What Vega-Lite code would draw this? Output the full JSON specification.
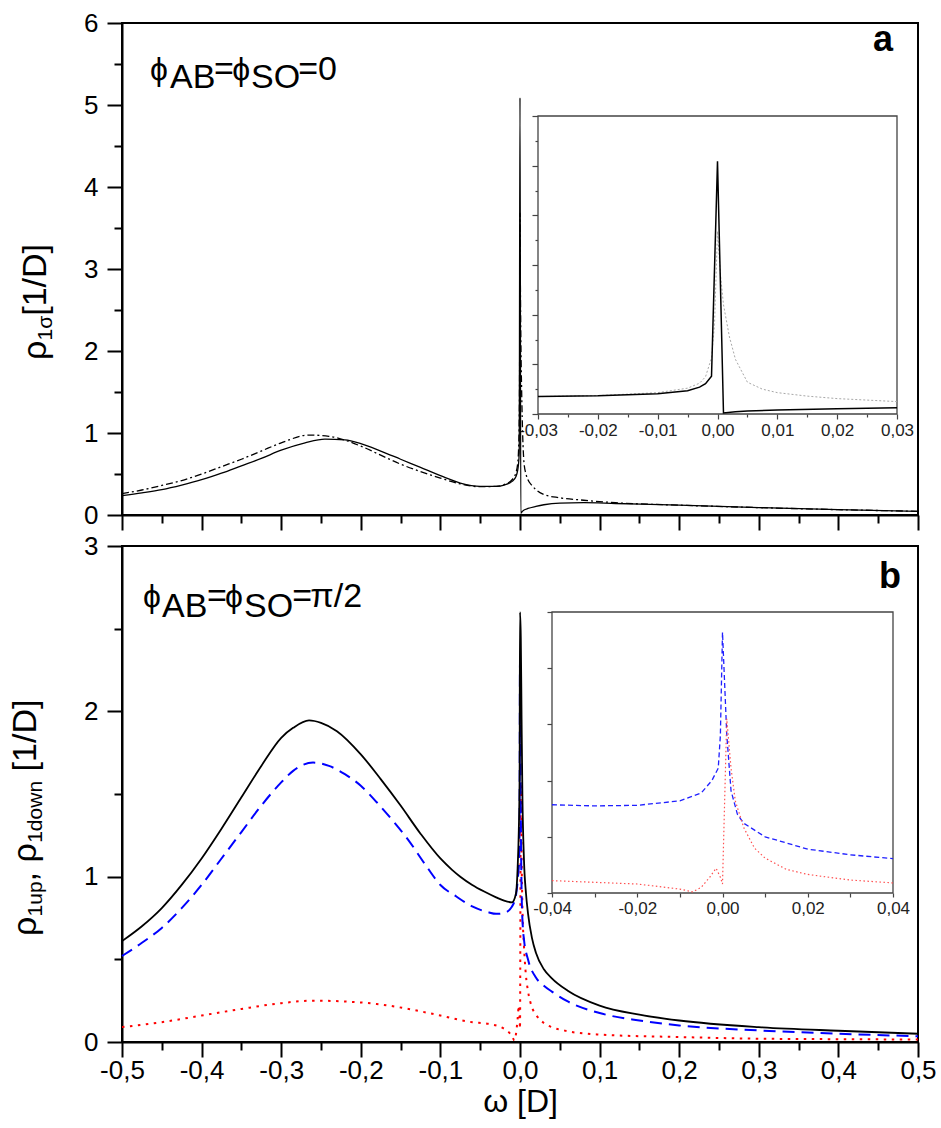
{
"$schema": "https://vega.github.io/schema/vega-lite/v6.json",
"background": "white",
"padding": {"left": 7, "top": 9, "right": 2, "bottom": 2},
"bounds": "flush",
"spacing": 31,
"config": {
  "view": {"stroke": "black", "strokeWidth": 2},
  "axis": {"grid": false, "domainColor": "black", "domainWidth": 2, "tickColor": "black", "tickWidth": 2, "labelColor": "black", "labelFont": "Liberation Sans", "titleFont": "Liberation Sans", "titleColor": "black", "titleFontWeight": "normal", "labelFlush": false, "labelOverlap": false},
  "line": {"interpolate": "monotone"},
  "text": {"font": "Liberation Sans", "color": "black"}
},
"datasets": {
  "a": [
    {"x": -0.5, "y": 0.235, "s": "solid"}, {"x": -0.475, "y": 0.27, "s": "solid"}, {"x": -0.45, "y": 0.31, "s": "solid"}, {"x": -0.425, "y": 0.365, "s": "solid"}, {"x": -0.4, "y": 0.43, "s": "solid"}, {"x": -0.375, "y": 0.51, "s": "solid"}, {"x": -0.35, "y": 0.6, "s": "solid"}, {"x": -0.325, "y": 0.69, "s": "solid"}, {"x": -0.3, "y": 0.79, "s": "solid"}, {"x": -0.27, "y": 0.88, "s": "solid"}, {"x": -0.245, "y": 0.925, "s": "solid"}, {"x": -0.22, "y": 0.915, "s": "solid"}, {"x": -0.2, "y": 0.87, "s": "solid"}, {"x": -0.175, "y": 0.78, "s": "solid"}, {"x": -0.15, "y": 0.68, "s": "solid"}, {"x": -0.125, "y": 0.58, "s": "solid"}, {"x": -0.1, "y": 0.48, "s": "solid"}, {"x": -0.075, "y": 0.39, "s": "solid"}, {"x": -0.05, "y": 0.35, "s": "solid"}, {"x": -0.03, "y": 0.35, "s": "solid"}, {"x": -0.02, "y": 0.365, "s": "solid"}, {"x": -0.01, "y": 0.41, "s": "solid"}, {"x": -0.005, "y": 0.47, "s": "solid"}, {"x": -0.003, "y": 0.54, "s": "solid"}, {"x": -0.002, "y": 0.61, "s": "solid"}, {"x": -0.001, "y": 0.76, "s": "solid"}, {"x": 0, "y": 5.09, "s": "solid"}, {"x": 0.001, "y": 0.02, "s": "solid"}, {"x": 0.003, "y": 0.045, "s": "solid"}, {"x": 0.005, "y": 0.06, "s": "solid"}, {"x": 0.01, "y": 0.08, "s": "solid"}, {"x": 0.02, "y": 0.105, "s": "solid"}, {"x": 0.03, "y": 0.125, "s": "solid"}, {"x": 0.05, "y": 0.145, "s": "solid"}, {"x": 0.08, "y": 0.15, "s": "solid"}, {"x": 0.12, "y": 0.14, "s": "solid"}, {"x": 0.2, "y": 0.12, "s": "solid"}, {"x": 0.3, "y": 0.09, "s": "solid"}, {"x": 0.4, "y": 0.065, "s": "solid"}, {"x": 0.5, "y": 0.045, "s": "solid"},
    {"x": -0.5, "y": 0.26, "s": "dashdot"}, {"x": -0.475, "y": 0.305, "s": "dashdot"}, {"x": -0.45, "y": 0.36, "s": "dashdot"}, {"x": -0.425, "y": 0.42, "s": "dashdot"}, {"x": -0.4, "y": 0.5, "s": "dashdot"}, {"x": -0.375, "y": 0.59, "s": "dashdot"}, {"x": -0.35, "y": 0.68, "s": "dashdot"}, {"x": -0.325, "y": 0.78, "s": "dashdot"}, {"x": -0.3, "y": 0.88, "s": "dashdot"}, {"x": -0.265, "y": 0.975, "s": "dashdot"}, {"x": -0.24, "y": 0.96, "s": "dashdot"}, {"x": -0.2, "y": 0.84, "s": "dashdot"}, {"x": -0.175, "y": 0.73, "s": "dashdot"}, {"x": -0.15, "y": 0.62, "s": "dashdot"}, {"x": -0.125, "y": 0.53, "s": "dashdot"}, {"x": -0.1, "y": 0.45, "s": "dashdot"}, {"x": -0.075, "y": 0.38, "s": "dashdot"}, {"x": -0.05, "y": 0.345, "s": "dashdot"}, {"x": -0.03, "y": 0.35, "s": "dashdot"}, {"x": -0.02, "y": 0.37, "s": "dashdot"}, {"x": -0.01, "y": 0.43, "s": "dashdot"}, {"x": -0.005, "y": 0.52, "s": "dashdot"}, {"x": -0.003, "y": 0.62, "s": "dashdot"}, {"x": -0.002, "y": 0.75, "s": "dashdot"}, {"x": -0.001, "y": 1.13, "s": "dashdot"}, {"x": -0.0005, "y": 1.8, "s": "dashdot"}, {"x": 0, "y": 3.68, "s": "dashdot"}, {"x": 0.0005, "y": 2.8, "s": "dashdot"}, {"x": 0.001, "y": 2.2, "s": "dashdot"}, {"x": 0.002, "y": 1.55, "s": "dashdot"}, {"x": 0.003, "y": 1.1, "s": "dashdot"}, {"x": 0.005, "y": 0.64, "s": "dashdot"}, {"x": 0.0075, "y": 0.5, "s": "dashdot"}, {"x": 0.01, "y": 0.43, "s": "dashdot"}, {"x": 0.015, "y": 0.36, "s": "dashdot"}, {"x": 0.02, "y": 0.31, "s": "dashdot"}, {"x": 0.03, "y": 0.25, "s": "dashdot"}, {"x": 0.05, "y": 0.21, "s": "dashdot"}, {"x": 0.08, "y": 0.18, "s": "dashdot"}, {"x": 0.12, "y": 0.15, "s": "dashdot"}, {"x": 0.2, "y": 0.12, "s": "dashdot"}, {"x": 0.3, "y": 0.09, "s": "dashdot"}, {"x": 0.4, "y": 0.065, "s": "dashdot"}, {"x": 0.5, "y": 0.045, "s": "dashdot"}
  ],
  "b": [
    {"x": -0.5, "y": 0.61, "s": "total"}, {"x": -0.475, "y": 0.7, "s": "total"}, {"x": -0.45, "y": 0.81, "s": "total"}, {"x": -0.425, "y": 0.95, "s": "total"}, {"x": -0.4, "y": 1.11, "s": "total"}, {"x": -0.375, "y": 1.29, "s": "total"}, {"x": -0.35, "y": 1.48, "s": "total"}, {"x": -0.325, "y": 1.67, "s": "total"}, {"x": -0.3, "y": 1.84, "s": "total"}, {"x": -0.285, "y": 1.9, "s": "total"}, {"x": -0.265, "y": 1.945, "s": "total"}, {"x": -0.25, "y": 1.93, "s": "total"}, {"x": -0.23, "y": 1.88, "s": "total"}, {"x": -0.2, "y": 1.74, "s": "total"}, {"x": -0.175, "y": 1.59, "s": "total"}, {"x": -0.15, "y": 1.43, "s": "total"}, {"x": -0.125, "y": 1.26, "s": "total"}, {"x": -0.1, "y": 1.11, "s": "total"}, {"x": -0.085, "y": 1.04, "s": "total"}, {"x": -0.075, "y": 1.0, "s": "total"}, {"x": -0.06, "y": 0.95, "s": "total"}, {"x": -0.045, "y": 0.91, "s": "total"}, {"x": -0.03, "y": 0.875, "s": "total"}, {"x": -0.02, "y": 0.855, "s": "total"}, {"x": -0.01, "y": 0.845, "s": "total"}, {"x": -0.005, "y": 0.9, "s": "total"}, {"x": -0.003, "y": 1.05, "s": "total"}, {"x": -0.0015, "y": 1.28, "s": "total"}, {"x": -0.0005, "y": 1.6, "s": "total"}, {"x": 0, "y": 2.6, "s": "total"}, {"x": 0.001, "y": 2.45, "s": "total"}, {"x": 0.002, "y": 1.95, "s": "total"}, {"x": 0.003, "y": 1.5, "s": "total"}, {"x": 0.005, "y": 1.1, "s": "total"}, {"x": 0.0075, "y": 0.9, "s": "total"}, {"x": 0.01, "y": 0.78, "s": "total"}, {"x": 0.015, "y": 0.63, "s": "total"}, {"x": 0.02, "y": 0.54, "s": "total"}, {"x": 0.03, "y": 0.44, "s": "total"}, {"x": 0.04, "y": 0.385, "s": "total"}, {"x": 0.06, "y": 0.31, "s": "total"}, {"x": 0.1, "y": 0.22, "s": "total"}, {"x": 0.15, "y": 0.165, "s": "total"}, {"x": 0.2, "y": 0.13, "s": "total"}, {"x": 0.3, "y": 0.09, "s": "total"}, {"x": 0.4, "y": 0.068, "s": "total"}, {"x": 0.5, "y": 0.05, "s": "total"},
    {"x": -0.5, "y": 0.52, "s": "up"}, {"x": -0.475, "y": 0.6, "s": "up"}, {"x": -0.45, "y": 0.69, "s": "up"}, {"x": -0.425, "y": 0.81, "s": "up"}, {"x": -0.4, "y": 0.95, "s": "up"}, {"x": -0.375, "y": 1.11, "s": "up"}, {"x": -0.35, "y": 1.27, "s": "up"}, {"x": -0.325, "y": 1.43, "s": "up"}, {"x": -0.3, "y": 1.57, "s": "up"}, {"x": -0.285, "y": 1.64, "s": "up"}, {"x": -0.26, "y": 1.69, "s": "up"}, {"x": -0.24, "y": 1.67, "s": "up"}, {"x": -0.22, "y": 1.62, "s": "up"}, {"x": -0.2, "y": 1.55, "s": "up"}, {"x": -0.18, "y": 1.45, "s": "up"}, {"x": -0.16, "y": 1.34, "s": "up"}, {"x": -0.14, "y": 1.22, "s": "up"}, {"x": -0.12, "y": 1.08, "s": "up"}, {"x": -0.1, "y": 0.95, "s": "up"}, {"x": -0.08, "y": 0.88, "s": "up"}, {"x": -0.06, "y": 0.82, "s": "up"}, {"x": -0.04, "y": 0.785, "s": "up"}, {"x": -0.03, "y": 0.775, "s": "up"}, {"x": -0.02, "y": 0.78, "s": "up"}, {"x": -0.01, "y": 0.82, "s": "up"}, {"x": -0.005, "y": 0.89, "s": "up"}, {"x": -0.0025, "y": 1.0, "s": "up"}, {"x": -0.001, "y": 1.11, "s": "up"}, {"x": -0.0005, "y": 1.4, "s": "up"}, {"x": 0, "y": 2.32, "s": "up"}, {"x": 0.001, "y": 1.41, "s": "up"}, {"x": 0.002, "y": 0.91, "s": "up"}, {"x": 0.0035, "y": 0.7, "s": "up"}, {"x": 0.005, "y": 0.62, "s": "up"}, {"x": 0.01, "y": 0.5, "s": "up"}, {"x": 0.02, "y": 0.39, "s": "up"}, {"x": 0.03, "y": 0.34, "s": "up"}, {"x": 0.04, "y": 0.305, "s": "up"}, {"x": 0.06, "y": 0.245, "s": "up"}, {"x": 0.1, "y": 0.175, "s": "up"}, {"x": 0.15, "y": 0.13, "s": "up"}, {"x": 0.2, "y": 0.1, "s": "up"}, {"x": 0.3, "y": 0.07, "s": "up"}, {"x": 0.4, "y": 0.05, "s": "up"}, {"x": 0.5, "y": 0.035, "s": "up"},
    {"x": -0.5, "y": 0.09, "s": "down"}, {"x": -0.45, "y": 0.12, "s": "down"}, {"x": -0.4, "y": 0.16, "s": "down"}, {"x": -0.35, "y": 0.2, "s": "down"}, {"x": -0.3, "y": 0.235, "s": "down"}, {"x": -0.26, "y": 0.25, "s": "down"}, {"x": -0.22, "y": 0.245, "s": "down"}, {"x": -0.18, "y": 0.23, "s": "down"}, {"x": -0.14, "y": 0.2, "s": "down"}, {"x": -0.1, "y": 0.16, "s": "down"}, {"x": -0.06, "y": 0.12, "s": "down"}, {"x": -0.04, "y": 0.11, "s": "down"}, {"x": -0.02, "y": 0.08, "s": "down"}, {"x": -0.01, "y": 0.035, "s": "down"}, {"x": -0.007, "y": 0.01, "s": "down"}, {"x": -0.005, "y": 0.05, "s": "down"}, {"x": -0.003, "y": 0.14, "s": "down"}, {"x": -0.0015, "y": 0.22, "s": "down"}, {"x": -0.0005, "y": 0.14, "s": "down"}, {"x": 0, "y": 0.08, "s": "down"}, {"x": 0.001, "y": 1.55, "s": "down"}, {"x": 0.002, "y": 1.11, "s": "down"}, {"x": 0.003, "y": 0.82, "s": "down"}, {"x": 0.005, "y": 0.58, "s": "down"}, {"x": 0.0075, "y": 0.4, "s": "down"}, {"x": 0.01, "y": 0.31, "s": "down"}, {"x": 0.015, "y": 0.21, "s": "down"}, {"x": 0.02, "y": 0.165, "s": "down"}, {"x": 0.03, "y": 0.115, "s": "down"}, {"x": 0.04, "y": 0.09, "s": "down"}, {"x": 0.06, "y": 0.065, "s": "down"}, {"x": 0.1, "y": 0.045, "s": "down"}, {"x": 0.2, "y": 0.03, "s": "down"}, {"x": 0.3, "y": 0.02, "s": "down"}, {"x": 0.4, "y": 0.017, "s": "down"}, {"x": 0.5, "y": 0.015, "s": "down"}
  ]
},
"vconcat": [
{
  "width": 796, "height": 492,
  "layer": [
    {"data": {"name": "a"}, "transform": [{"filter": "datum.s === 'solid'"}],
     "mark": {"type": "line", "color": "black", "strokeWidth": 1.3},
     "encoding": {
       "x": {"field": "x", "type": "quantitative", "scale": {"domain": [-0.5, 0.5], "nice": false, "zero": false},
             "axis": {"orient": "bottom", "title": null, "labels": false, "values": [-0.5,-0.4,-0.3,-0.2,-0.1,0,0.1,0.2,0.3,0.4,0.5], "tickSize": 15}},
       "y": {"field": "y", "type": "quantitative", "scale": {"domain": [0, 6], "nice": false, "zero": false},
             "axis": {"orient": "left", "title": null, "values": [0,1,2,3,4,5,6], "labelFontSize": 26, "labelPadding": 9, "tickSize": 15, "labelExpr": "format(datum.value, 'd')"}}
     }},
    {"data": {"name": "a"}, "transform": [{"filter": "datum.s === 'dashdot'"}],
     "mark": {"type": "line", "color": "black", "strokeWidth": 1.3, "strokeDash": [7, 3, 2, 3]},
     "encoding": {
       "x": {"field": "x", "type": "quantitative", "scale": {"domain": [-0.5, 0.5], "nice": false, "zero": false},
             "axis": {"orient": "bottom", "title": null, "labels": false, "domain": false, "values": [-0.45,-0.35,-0.25,-0.15,-0.05,0.05,0.15,0.25,0.35,0.45], "tickSize": 8}},
       "y": {"field": "y", "type": "quantitative", "scale": {"domain": [0, 6], "nice": false, "zero": false},
             "axis": {"orient": "left", "title": null, "labels": false, "domain": false, "values": [0.5,1.5,2.5,3.5,4.5,5.5], "tickSize": 8}}
     }},
    {"data": {"values": [{}]}, "mark": {"type": "text", "text": "ϕ", "fontSize": 32, "align": "left", "baseline": "alphabetic"},
     "encoding": {"x": {"datum": -0.4648, "type": "quantitative", "scale": {"domain": [-0.5, 0.5], "nice": false, "zero": false}, "axis": null}, "y": {"datum": 5.305, "type": "quantitative", "scale": {"domain": [0, 6], "nice": false, "zero": false}, "axis": null}}},
    {"data": {"values": [{}]}, "mark": {"type": "text", "text": "AB", "fontSize": 34, "align": "left", "baseline": "alphabetic"},
     "encoding": {"x": {"datum": -0.4396, "type": "quantitative", "scale": {"domain": [-0.5, 0.5], "nice": false, "zero": false}, "axis": null}, "y": {"datum": 5.207, "type": "quantitative", "scale": {"domain": [0, 6], "nice": false, "zero": false}, "axis": null}}},
    {"data": {"values": [{}]}, "mark": {"type": "text", "text": "=", "fontSize": 34, "align": "left", "baseline": "alphabetic"},
     "encoding": {"x": {"datum": -0.3843, "type": "quantitative", "scale": {"domain": [-0.5, 0.5], "nice": false, "zero": false}, "axis": null}, "y": {"datum": 5.305, "type": "quantitative", "scale": {"domain": [0, 6], "nice": false, "zero": false}, "axis": null}}},
    {"data": {"values": [{}]}, "mark": {"type": "text", "text": "ϕ", "fontSize": 32, "align": "left", "baseline": "alphabetic"},
     "encoding": {"x": {"datum": -0.3616, "type": "quantitative", "scale": {"domain": [-0.5, 0.5], "nice": false, "zero": false}, "axis": null}, "y": {"datum": 5.305, "type": "quantitative", "scale": {"domain": [0, 6], "nice": false, "zero": false}, "axis": null}}},
    {"data": {"values": [{}]}, "mark": {"type": "text", "text": "SO", "fontSize": 34, "align": "left", "baseline": "alphabetic"},
     "encoding": {"x": {"datum": -0.3378, "type": "quantitative", "scale": {"domain": [-0.5, 0.5], "nice": false, "zero": false}, "axis": null}, "y": {"datum": 5.207, "type": "quantitative", "scale": {"domain": [0, 6], "nice": false, "zero": false}, "axis": null}}},
    {"data": {"values": [{}]}, "mark": {"type": "text", "text": "=0", "fontSize": 34, "align": "left", "baseline": "alphabetic"},
     "encoding": {"x": {"datum": -0.2786, "type": "quantitative", "scale": {"domain": [-0.5, 0.5], "nice": false, "zero": false}, "axis": null}, "y": {"datum": 5.305, "type": "quantitative", "scale": {"domain": [0, 6], "nice": false, "zero": false}, "axis": null}}},
    {"data": {"values": [{}]}, "mark": {"type": "text", "text": "a", "fontSize": 36, "fontWeight": "bold", "align": "left", "baseline": "alphabetic"},
     "encoding": {"x": {"datum": 0.4434, "type": "quantitative", "scale": {"domain": [-0.5, 0.5], "nice": false, "zero": false}, "axis": null}, "y": {"datum": 5.66, "type": "quantitative", "scale": {"domain": [0, 6], "nice": false, "zero": false}, "axis": null}}},
    {"data": {"values": [{}]}, "mark": {"type": "text", "text": "ρ", "fontSize": 34, "angle": 270, "align": "left", "baseline": "alphabetic"},
     "encoding": {"x": {"datum": -0.5956, "type": "quantitative", "scale": {"domain": [-0.5, 0.5], "nice": false, "zero": false}, "axis": null}, "y": {"datum": 1.89, "type": "quantitative", "scale": {"domain": [0, 6], "nice": false, "zero": false}, "axis": null}}},
    {"data": {"values": [{}]}, "mark": {"type": "text", "text": "1σ", "fontSize": 21, "angle": 270, "align": "left", "baseline": "alphabetic", "dx": 19.6, "dy": 6},
     "encoding": {"x": {"datum": -0.5956, "type": "quantitative", "scale": {"domain": [-0.5, 0.5], "nice": false, "zero": false}, "axis": null}, "y": {"datum": 1.89, "type": "quantitative", "scale": {"domain": [0, 6], "nice": false, "zero": false}, "axis": null}}},
    {"data": {"values": [{}]}, "mark": {"type": "text", "text": "[1/D]", "fontSize": 34, "angle": 270, "align": "left", "baseline": "alphabetic", "dx": 44.2},
     "encoding": {"x": {"datum": -0.5956, "type": "quantitative", "scale": {"domain": [-0.5, 0.5], "nice": false, "zero": false}, "axis": null}, "y": {"datum": 1.89, "type": "quantitative", "scale": {"domain": [0, 6], "nice": false, "zero": false}, "axis": null}}},
    {"data": {"values": [{}]}, "mark": {"type": "rect", "fill": "white", "stroke": "#444", "strokeWidth": 1.3},
     "encoding": {
       "x": {"datum": -0.03, "type": "quantitative", "scale": {"domain": [-0.03, 0.03], "range": [416, 775], "nice": false, "zero": false},
             "axis": {"orient": "bottom", "offset": -101, "domain": false, "title": null, "values": [-0.03,-0.02,-0.01,0,0.01,0.02,0.03],
                      "labelFontSize": 17, "labelColor": "#222", "labelPadding": 3, "tickColor": "#444", "tickWidth": 1.2, "tickSize": 5,
                      "labelExpr": "replace(replace(format(datum.value,'.2f'),'.',','),'\u2212','-')"}},
       "x2": {"datum": 0.03},
       "y": {"datum": 0, "type": "quantitative", "scale": {"domain": [0, 6], "range": [391, 93], "nice": false, "zero": false},
             "axis": {"orient": "left", "offset": -416, "domain": false, "title": null, "labels": false, "values": [0,1,2,3,4,5,6], "tickColor": "#444", "tickWidth": 1.2, "tickSize": 6}},
       "y2": {"datum": 6}
     }},
    {"data": {"name": "a"}, "transform": [{"filter": "datum.s === 'dashdot' && datum.x >= -0.03 && datum.x <= 0.03"}],
     "mark": {"type": "line", "color": "#a8a8a8", "strokeWidth": 1, "strokeDash": [2, 2], "interpolate": "linear"},
     "encoding": {
       "x": {"field": "x", "type": "quantitative", "scale": {"domain": [-0.03, 0.03], "range": [416, 775], "nice": false, "zero": false},
             "axis": {"orient": "bottom", "offset": -101, "domain": false, "title": null, "labels": false, "values": [-0.025,-0.015,-0.005,0.005,0.015,0.025], "tickColor": "#444", "tickWidth": 1.2, "tickSize": 3}},
       "y": {"field": "y", "type": "quantitative", "scale": {"domain": [0, 6], "range": [391, 93], "nice": false, "zero": false},
             "axis": {"orient": "left", "offset": -416, "domain": false, "title": null, "labels": false, "values": [0.5,1.5,2.5,3.5,4.5,5.5], "tickColor": "#444", "tickWidth": 1.2, "tickSize": 3}}
     }},
    {"data": {"name": "a"}, "transform": [{"filter": "datum.s === 'solid' && datum.x >= -0.03 && datum.x <= 0.03"}],
     "mark": {"type": "line", "color": "black", "strokeWidth": 1.5, "interpolate": "linear"},
     "encoding": {
       "x": {"field": "x", "type": "quantitative", "scale": {"domain": [-0.03, 0.03], "range": [416, 775], "nice": false, "zero": false}, "axis": null},
       "y": {"field": "y", "type": "quantitative", "scale": {"domain": [0, 6], "range": [391, 93], "nice": false, "zero": false}, "axis": null}
     }}
  ],
  "resolve": {"scale": {"x": "independent", "y": "independent"}, "axis": {"x": "independent", "y": "independent"}}
},
{
  "width": 796, "height": 496,
  "layer": [
    {"data": {"name": "b"}, "transform": [{"filter": "datum.s === 'down'"}],
     "mark": {"type": "line", "color": "#ff0000", "strokeWidth": 2, "strokeDash": [2.5, 5.5]},
     "encoding": {
       "x": {"field": "x", "type": "quantitative", "scale": {"domain": [-0.5, 0.5], "nice": false, "zero": false},
             "axis": {"orient": "bottom", "title": "ω [D]", "titleFontSize": 32, "titlePadding": 3, "labelFontSize": 26, "labelPadding": 0, "tickSize": 15,
                      "values": [-0.5,-0.4,-0.3,-0.2,-0.1,0,0.1,0.2,0.3,0.4,0.5],
                      "labelExpr": "replace(replace(format(datum.value,'.1f'),'.',','),'\u2212','-')"}},
       "y": {"field": "y", "type": "quantitative", "scale": {"domain": [0, 3], "nice": false, "zero": false},
             "axis": {"orient": "left", "title": null, "values": [0,1,2,3], "labelFontSize": 26, "labelPadding": 9, "tickSize": 15, "labelExpr": "format(datum.value, 'd')"}}
     }},
    {"data": {"name": "b"}, "transform": [{"filter": "datum.s === 'up'"}],
     "mark": {"type": "line", "color": "#0000ff", "strokeWidth": 2, "strokeDash": [12, 7]},
     "encoding": {
       "x": {"field": "x", "type": "quantitative", "scale": {"domain": [-0.5, 0.5], "nice": false, "zero": false},
             "axis": {"orient": "bottom", "title": null, "labels": false, "domain": false, "values": [-0.45,-0.35,-0.25,-0.15,-0.05,0.05,0.15,0.25,0.35,0.45], "tickSize": 8}},
       "y": {"field": "y", "type": "quantitative", "scale": {"domain": [0, 3], "nice": false, "zero": false},
             "axis": {"orient": "left", "title": null, "labels": false, "domain": false, "values": [0.5,1.5,2.5], "tickSize": 8}}
     }},
    {"data": {"name": "b"}, "transform": [{"filter": "datum.s === 'total'"}],
     "mark": {"type": "line", "color": "black", "strokeWidth": 1.8},
     "encoding": {
       "x": {"field": "x", "type": "quantitative", "scale": {"domain": [-0.5, 0.5], "nice": false, "zero": false}, "axis": null},
       "y": {"field": "y", "type": "quantitative", "scale": {"domain": [0, 3], "nice": false, "zero": false}, "axis": null}
     }},
    {"data": {"values": [{}]}, "mark": {"type": "text", "text": "ϕ", "fontSize": 32, "align": "left", "baseline": "alphabetic"},
     "encoding": {"x": {"datum": -0.4736, "type": "quantitative", "scale": {"domain": [-0.5, 0.5], "nice": false, "zero": false}, "axis": null}, "y": {"datum": 2.631, "type": "quantitative", "scale": {"domain": [0, 3], "nice": false, "zero": false}, "axis": null}}},
    {"data": {"values": [{}]}, "mark": {"type": "text", "text": "AB", "fontSize": 34, "align": "left", "baseline": "alphabetic"},
     "encoding": {"x": {"datum": -0.4497, "type": "quantitative", "scale": {"domain": [-0.5, 0.5], "nice": false, "zero": false}, "axis": null}, "y": {"datum": 2.571, "type": "quantitative", "scale": {"domain": [0, 3], "nice": false, "zero": false}, "axis": null}}},
    {"data": {"values": [{}]}, "mark": {"type": "text", "text": "=", "fontSize": 34, "align": "left", "baseline": "alphabetic"},
     "encoding": {"x": {"datum": -0.3931, "type": "quantitative", "scale": {"domain": [-0.5, 0.5], "nice": false, "zero": false}, "axis": null}, "y": {"datum": 2.631, "type": "quantitative", "scale": {"domain": [0, 3], "nice": false, "zero": false}, "axis": null}}},
    {"data": {"values": [{}]}, "mark": {"type": "text", "text": "ϕ", "fontSize": 32, "align": "left", "baseline": "alphabetic"},
     "encoding": {"x": {"datum": -0.3705, "type": "quantitative", "scale": {"domain": [-0.5, 0.5], "nice": false, "zero": false}, "axis": null}, "y": {"datum": 2.631, "type": "quantitative", "scale": {"domain": [0, 3], "nice": false, "zero": false}, "axis": null}}},
    {"data": {"values": [{}]}, "mark": {"type": "text", "text": "SO", "fontSize": 34, "align": "left", "baseline": "alphabetic"},
     "encoding": {"x": {"datum": -0.3466, "type": "quantitative", "scale": {"domain": [-0.5, 0.5], "nice": false, "zero": false}, "axis": null}, "y": {"datum": 2.571, "type": "quantitative", "scale": {"domain": [0, 3], "nice": false, "zero": false}, "axis": null}}},
    {"data": {"values": [{}]}, "mark": {"type": "text", "text": "=", "fontSize": 34, "align": "left", "baseline": "alphabetic"},
     "encoding": {"x": {"datum": -0.2862, "type": "quantitative", "scale": {"domain": [-0.5, 0.5], "nice": false, "zero": false}, "axis": null}, "y": {"datum": 2.631, "type": "quantitative", "scale": {"domain": [0, 3], "nice": false, "zero": false}, "axis": null}}},
    {"data": {"values": [{}]}, "mark": {"type": "text", "text": "π/2", "fontSize": 34, "align": "left", "baseline": "alphabetic"},
     "encoding": {"x": {"datum": -0.2635, "type": "quantitative", "scale": {"domain": [-0.5, 0.5], "nice": false, "zero": false}, "axis": null}, "y": {"datum": 2.631, "type": "quantitative", "scale": {"domain": [0, 3], "nice": false, "zero": false}, "axis": null}}},
    {"data": {"values": [{}]}, "mark": {"type": "text", "text": "b", "fontSize": 36, "fontWeight": "bold", "align": "left", "baseline": "alphabetic"},
     "encoding": {"x": {"datum": 0.451, "type": "quantitative", "scale": {"domain": [-0.5, 0.5], "nice": false, "zero": false}, "axis": null}, "y": {"datum": 2.746, "type": "quantitative", "scale": {"domain": [0, 3], "nice": false, "zero": false}, "axis": null}}},
    {"data": {"values": [{}]}, "mark": {"type": "text", "text": "ρ", "fontSize": 34, "angle": 270, "align": "left", "baseline": "alphabetic"},
     "encoding": {"x": {"datum": -0.6082, "type": "quantitative", "scale": {"domain": [-0.5, 0.5], "nice": false, "zero": false}, "axis": null}, "y": {"datum": 0.641, "type": "quantitative", "scale": {"domain": [0, 3], "nice": false, "zero": false}, "axis": null}}},
    {"data": {"values": [{}]}, "mark": {"type": "text", "text": "1up", "fontSize": 21, "angle": 270, "align": "left", "baseline": "alphabetic", "dx": 19.6, "dy": 6},
     "encoding": {"x": {"datum": -0.6082, "type": "quantitative", "scale": {"domain": [-0.5, 0.5], "nice": false, "zero": false}, "axis": null}, "y": {"datum": 0.641, "type": "quantitative", "scale": {"domain": [0, 3], "nice": false, "zero": false}, "axis": null}}},
    {"data": {"values": [{}]}, "mark": {"type": "text", "text": ",", "fontSize": 34, "angle": 270, "align": "left", "baseline": "alphabetic", "dx": 54.6},
     "encoding": {"x": {"datum": -0.6082, "type": "quantitative", "scale": {"domain": [-0.5, 0.5], "nice": false, "zero": false}, "axis": null}, "y": {"datum": 0.641, "type": "quantitative", "scale": {"domain": [0, 3], "nice": false, "zero": false}, "axis": null}}},
    {"data": {"values": [{}]}, "mark": {"type": "text", "text": "ρ", "fontSize": 34, "angle": 270, "align": "left", "baseline": "alphabetic", "dx": 73.6},
     "encoding": {"x": {"datum": -0.6082, "type": "quantitative", "scale": {"domain": [-0.5, 0.5], "nice": false, "zero": false}, "axis": null}, "y": {"datum": 0.641, "type": "quantitative", "scale": {"domain": [0, 3], "nice": false, "zero": false}, "axis": null}}},
    {"data": {"values": [{}]}, "mark": {"type": "text", "text": "1down", "fontSize": 21, "angle": 270, "align": "left", "baseline": "alphabetic", "dx": 93.2, "dy": 6},
     "encoding": {"x": {"datum": -0.6082, "type": "quantitative", "scale": {"domain": [-0.5, 0.5], "nice": false, "zero": false}, "axis": null}, "y": {"datum": 0.641, "type": "quantitative", "scale": {"domain": [0, 3], "nice": false, "zero": false}, "axis": null}}},
    {"data": {"values": [{}]}, "mark": {"type": "text", "text": "[1/D]", "fontSize": 34, "angle": 270, "align": "left", "baseline": "alphabetic", "dx": 164.6},
     "encoding": {"x": {"datum": -0.6082, "type": "quantitative", "scale": {"domain": [-0.5, 0.5], "nice": false, "zero": false}, "axis": null}, "y": {"datum": 0.641, "type": "quantitative", "scale": {"domain": [0, 3], "nice": false, "zero": false}, "axis": null}}},
    {"data": {"values": [{}]}, "mark": {"type": "rect", "fill": "white", "stroke": "#444", "strokeWidth": 1.3},
     "encoding": {
       "x": {"datum": -0.04, "type": "quantitative", "scale": {"domain": [-0.04, 0.04], "range": [430, 771], "nice": false, "zero": false},
             "axis": {"orient": "bottom", "offset": -149, "domain": false, "title": null, "values": [-0.04,-0.03,-0.02,-0.01,0,0.01,0.02,0.03,0.04],
                      "labelFontSize": 17, "labelColor": "#222", "labelPadding": 3, "tickColor": "#444", "tickWidth": 1.2, "tickSize": 4,
                      "labelExpr": "abs(datum.value*50-round(datum.value*50))<0.001 ? replace(replace(format(datum.value,'.2f'),'.',','),'\u2212','-') : ''"}},
       "x2": {"datum": 0.04},
       "y": {"datum": 0, "type": "quantitative", "scale": {"domain": [0, 2.5], "range": [347, 66], "nice": false, "zero": false},
             "axis": {"orient": "left", "offset": -430, "domain": false, "title": null, "labels": false, "values": [0,0.5,1,1.5,2,2.5], "tickColor": "#444", "tickWidth": 1.2, "tickSize": 5}},
       "y2": {"datum": 2.5}
     }},
    {"data": {"name": "b"}, "transform": [{"filter": "datum.s === 'up' && datum.x >= -0.04 && datum.x <= 0.04"}],
     "mark": {"type": "line", "color": "#2020ff", "strokeWidth": 1.3, "strokeDash": [5, 3], "interpolate": "linear"},
     "encoding": {
       "x": {"field": "x", "type": "quantitative", "scale": {"domain": [-0.04, 0.04], "range": [430, 771], "nice": false, "zero": false}, "axis": null},
       "y": {"field": "y", "type": "quantitative", "scale": {"domain": [0, 2.5], "range": [347, 66], "nice": false, "zero": false}, "axis": null}
     }},
    {"data": {"name": "b"}, "transform": [{"filter": "datum.s === 'down' && datum.x >= -0.04 && datum.x <= 0.04"}],
     "mark": {"type": "line", "color": "#ff5050", "strokeWidth": 1.2, "strokeDash": [1.5, 2.5], "interpolate": "linear"},
     "encoding": {
       "x": {"field": "x", "type": "quantitative", "scale": {"domain": [-0.04, 0.04], "range": [430, 771], "nice": false, "zero": false}, "axis": null},
       "y": {"field": "y", "type": "quantitative", "scale": {"domain": [0, 2.5], "range": [347, 66], "nice": false, "zero": false}, "axis": null}
     }}
  ],
  "resolve": {"scale": {"x": "independent", "y": "independent"}, "axis": {"x": "independent", "y": "independent"}}
}
]
}
